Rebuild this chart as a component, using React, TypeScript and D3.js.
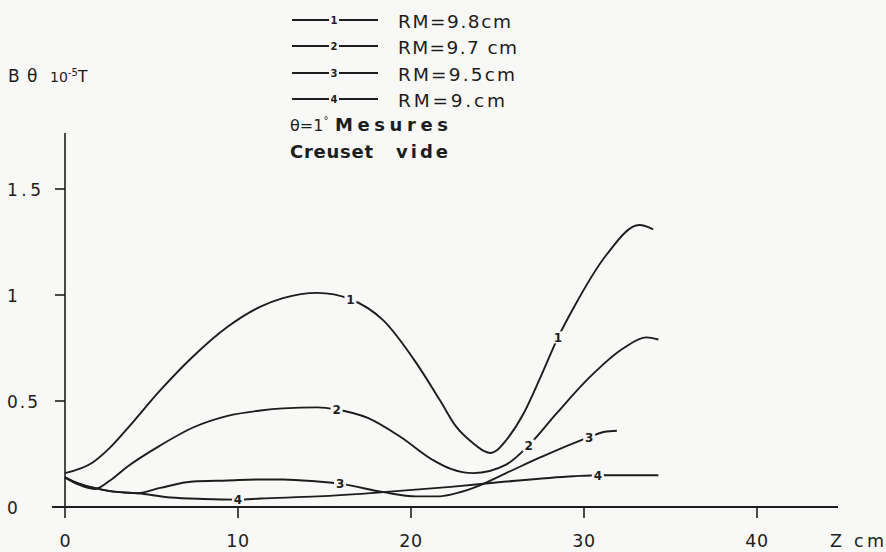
import React from "react";
import * as d3 from "d3";

// Series 1: RM = 9.8 cm
const z1 = [0, 1.6, 2.6, 3.6, 5.5, 7.4, 9.4, 11.3, 12.6, 14.6, 16.5, 18.4, 20.3, 21.7, 22.6, 23.6, 24.2, 24.6, 25.0, 25.5, 26.5, 27.5, 28.5, 29.4, 31.3, 33.2, 34.0];
const b1 = [0.16, 0.21, 0.28, 0.37, 0.55, 0.71, 0.85, 0.945, 0.985, 1.01, 0.98, 0.88, 0.68, 0.5, 0.38, 0.3, 0.265, 0.255, 0.27, 0.315, 0.44, 0.615, 0.8, 0.94, 1.19, 1.33, 1.31];
// Series 2: RM = 9.7 cm
const z2 = [0, 0.8, 1.7, 2.6, 3.6, 5.5, 7.4, 9.4, 11.3, 12.6, 14.6, 15.7, 17.5, 19.4, 21.3, 22.3, 23.6, 25.5, 26.8, 28.4, 30.3, 32.3, 33.6, 34.3];
const b2 = [0.14, 0.105, 0.085, 0.125, 0.19, 0.29, 0.375, 0.43, 0.455, 0.465, 0.47, 0.46, 0.42, 0.33, 0.22, 0.18, 0.16, 0.2, 0.29, 0.44, 0.61, 0.75, 0.8, 0.79];
// Series 3: RM = 9.5 cm
const z3 = [0, 0.8, 1.7, 2.6, 4.2, 5.5, 7.4, 9.4, 11.3, 12.6, 14.6, 15.9, 18.4, 20.3, 21.5, 23.6, 25.5, 27.5, 30.3, 31.2, 31.9];
const b3 = [0.14, 0.11, 0.09, 0.075, 0.065, 0.09, 0.12, 0.125, 0.13, 0.13, 0.12, 0.11, 0.07, 0.05, 0.05, 0.09, 0.16, 0.235, 0.33, 0.355, 0.36];
// Series 4: RM = 9 cm
const z4 = [0, 0.8, 1.7, 2.6, 4.2, 6.1, 8, 10, 11.3, 14.6, 18.4, 22.3, 25.5, 29.4, 30.8, 34.3];
const b4 = [0.14, 0.11, 0.09, 0.075, 0.065, 0.045, 0.038, 0.035, 0.04, 0.05, 0.07, 0.095, 0.12, 0.145, 0.15, 0.15];

const seriesNames = ["1", "2", "3", "4"];
const legendTexts = ["RM=9.8cm", "RM=9.7 cm", "RM=9.5cm", "RM=9.cm"];
const labelZ = [[16.5, 28.5], [15.7, 26.8], [15.9, 30.3], [10, 30.8]];

const xTicks = [0, 10, 20, 30, 40];
const yTicks = [0, 0.5, 1, 1.5];
const yTickLabels = ["0", "0.5", "1", "1.5"];

const BG = "#f8f8f6";
const INK = "#1d1d1d";
const FONT = "'DejaVu Sans', Verdana, sans-serif";

export default function App() {
  const W = 886, H = 552;
  const x = d3.scaleLinear().domain([0, 40]).range([65, 757]);
  const y = d3.scaleLinear().domain([0, 1.5]).range([507, 189]);
  const data = [
    [z1, b1],
    [z2, b2],
    [z3, b3],
    [z4, b4],
  ];
  const line = d3
    .line<[number, number]>()
    .x((d) => x(d[0]))
    .y((d) => y(d[1]))
    .curve(d3.curveMonotoneX);

  const legendRows = [20, 46, 73, 99];
  const legendWidths = [113, 119, 117, 107];
  const yLabelWidths = [10, 31, 7, 34];

  return (
    <svg
      width={W}
      height={H}
      style={{ position: "absolute", left: 0, top: 0, background: BG }}
      fontFamily={FONT}
    >
      <rect x={0} y={0} width={W} height={H} fill={BG} />
      {/* axes */}
      <line x1={x(0)} x2={x(0)} y1={133} y2={518} stroke={INK} strokeWidth={1.6} />
      <line x1={52} x2={838} y1={y(0)} y2={y(0)} stroke={INK} strokeWidth={1.8} />
      {yTicks.filter((t) => t > 0).map((t) => (
        <line key={"yt" + t} x1={55} x2={x(0)} y1={y(t)} y2={y(t)} stroke={INK} strokeWidth={1.6} />
      ))}
      {xTicks.filter((t) => t > 0).map((t) => (
        <line key={"xt" + t} x1={x(t)} x2={x(t)} y1={y(0)} y2={y(0) + 11} stroke={INK} strokeWidth={1.6} />
      ))}
      {yTicks.map((t, i) => (
        <text key={"yl" + t} x={7} y={y(t) + 6.5} fontSize={17} fill={INK}
          textLength={yLabelWidths[i]} lengthAdjust="spacing">
          {yTickLabels[i]}
        </text>
      ))}
      {xTicks.map((t) => (
        <text key={"xl" + t} x={x(t)} y={547} fontSize={17.5} fill={INK} textAnchor="middle"
          letterSpacing={t > 0 ? 0.5 : 0}>
          {t}
        </text>
      ))}
      <text x={830} y={547} fontSize={17.5} fill={INK} textLength={54} lengthAdjust="spacing">Z cm</text>

      {/* y title */}
      <text x={8} y={82} fontSize={17} fill={INK}>B</text>
      <text x={27} y={82} fontSize={17} fill={INK}>θ</text>
      <text x={50} y={82} fontSize={14} fill={INK}>
        10
        <tspan fontSize={10} dy={-6}>-5</tspan>
        <tspan fontSize={16} dy={6}>T</tspan>
      </text>

      {/* curves */}
      {data.map(([zs, bs], i) => {
        const pts = zs.map((z, k) => [z, bs[k]] as [number, number]);
        const interp = d3.scaleLinear().domain(zs).range(bs);
        return (
          <g key={"s" + i}>
            <path d={line(pts) || ""} fill="none" stroke={INK} strokeWidth={1.9} />
            {labelZ[i].map((lz, j) => (
              <g key={"lab" + j}>
                <rect x={x(lz) - 6} y={y(interp(lz)) - 6} width={12} height={12} fill={BG} />
                <text x={x(lz)} y={y(interp(lz)) + 4.5} fontSize={12} fontWeight="bold" fill={INK} textAnchor="middle">
                  {seriesNames[i]}
                </text>
              </g>
            ))}
          </g>
        );
      })}

      {/* legend */}
      {legendRows.map((ry, i) => (
        <g key={"lg" + i}>
          <line x1={292} x2={378} y1={ry} y2={ry} stroke={INK} strokeWidth={1.9} />
          <rect x={329} y={ry - 6} width={10} height={12} fill={BG} />
          <text x={334} y={ry + 4} fontSize={10} fontWeight="bold" fill={INK} textAnchor="middle">
            {seriesNames[i]}
          </text>
          <text x={398} y={ry + 7.5} fontSize={18.5} fill={INK} textLength={legendWidths[i]} lengthAdjust="spacing">
            {legendTexts[i]}
          </text>
        </g>
      ))}
      <text x={290} y={131} fontSize={16} fill={INK}>
        θ=1<tspan fontSize={10} dy={-7}>°</tspan>
      </text>
      <text x={335} y={131} fontSize={18} fontWeight="bold" fill={INK} textLength={113} lengthAdjust="spacing">Mesures</text>
      <text x={290} y={158} fontSize={18} fontWeight="bold" fill={INK} textLength={83} lengthAdjust="spacing">Creuset</text>
      <text x={396} y={158} fontSize={18} fontWeight="bold" fill={INK} textLength={52} lengthAdjust="spacing">vide</text>
    </svg>
  );
}
